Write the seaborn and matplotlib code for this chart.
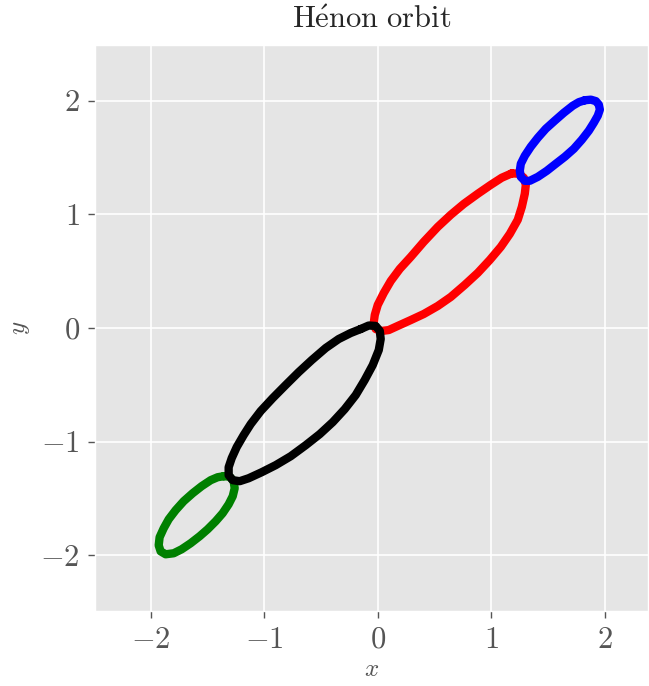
import numpy as np
import pandas as pd
import matplotlib
matplotlib.use("Agg")
import matplotlib.pyplot as plt
import seaborn as sns

green_x = [-1.357, -1.304, -1.269, -1.260, -1.277, -1.313, -1.366, -1.427, -1.498, -1.568, -1.648, -1.727, -1.797,
           -1.868, -1.912, -1.929, -1.921, -1.885, -1.841, -1.780, -1.709, -1.630, -1.551, -1.471, -1.410]
green_y = [-1.304, -1.308, -1.348, -1.410, -1.480, -1.551, -1.630, -1.700, -1.771, -1.832, -1.894, -1.947, -1.982,
           -1.991, -1.965, -1.912, -1.841, -1.762, -1.683, -1.603, -1.524, -1.454, -1.392, -1.339, -1.313]

black_x = [-0.150, -0.079, -0.018, 0.018, 0.026, 0.009, -0.044, -0.115, -0.194, -0.291, -0.396, -0.511, -0.634,
           -0.766, -0.899, -1.022, -1.137, -1.216, -1.277, -1.313, -1.313, -1.286, -1.242, -1.181, -1.119, -1.031,
           -0.925, -0.811, -0.696, -0.581, -0.458, -0.344, -0.238]
black_y = [-0.009, 0.022, 0.018, -0.026, -0.097, -0.194, -0.326, -0.458, -0.590, -0.714, -0.828, -0.934, -1.031,
           -1.128, -1.207, -1.269, -1.322, -1.348, -1.339, -1.295, -1.225, -1.145, -1.048, -0.943, -0.846, -0.731,
           -0.617, -0.502, -0.388, -0.282, -0.176, -0.097, -0.044]

red_x = [1.181, 1.242, 1.286, 1.304, 1.295, 1.269, 1.233, 1.163, 1.084, 0.987, 0.881, 0.766, 0.643, 0.529, 0.405,
         0.291, 0.176, 0.097, 0.035, -0.018, -0.035, -0.026, 0.000, 0.053, 0.115, 0.194, 0.291, 0.405, 0.529,
         0.643, 0.758, 0.881, 0.996, 1.092]
red_y = [1.361, 1.357, 1.322, 1.260, 1.181, 1.066, 0.952, 0.828, 0.714, 0.599, 0.485, 0.379, 0.273, 0.194, 0.123,
         0.070, 0.018, -0.018, -0.026, -0.009, 0.044, 0.115, 0.203, 0.308, 0.414, 0.520, 0.626, 0.758, 0.890,
         0.996, 1.092, 1.181, 1.260, 1.322]

blue_x = [1.824, 1.877, 1.921, 1.947, 1.956, 1.938, 1.903, 1.859, 1.797, 1.727, 1.648, 1.568, 1.489, 1.410,
          1.339, 1.295, 1.260, 1.251, 1.260, 1.295, 1.348, 1.410, 1.480, 1.559, 1.639, 1.718, 1.771]
blue_y = [2.004, 2.009, 1.996, 1.965, 1.921, 1.868, 1.806, 1.736, 1.656, 1.577, 1.507, 1.445, 1.383, 1.330,
          1.295, 1.295, 1.330, 1.383, 1.445, 1.515, 1.595, 1.674, 1.753, 1.824, 1.894, 1.956, 1.987]

ticks = [-2, -1, 0, 1, 2]

plt.style.use("ggplot")
plt.rcParams["font.family"] = "serif"
plt.rcParams["font.serif"] = ["cmr10"]
plt.rcParams["mathtext.fontset"] = "cm"
plt.rcParams["axes.formatter.use_mathtext"] = True

fig = plt.figure(figsize=(6.49, 6.86), dpi=100)
ax = fig.add_axes([95 / 649, 1 - 611 / 686, 553 / 649, 566 / 686])

loops = [(red_x, red_y, "red"), (blue_x, blue_y, "blue"),
         (green_x, green_y, "green"), (black_x, black_y, "black")]
for xs, ys, c in loops:
    df = pd.DataFrame({"x": np.append(xs, xs[0]), "y": np.append(ys, ys[0])})
    sns.lineplot(data=df, x="x", y="y", sort=False, estimator=None, color=c,
                 linewidth=6, solid_joinstyle="round", solid_capstyle="round", ax=ax)

ax.set_xlim(-2.49, 2.38)
ax.set_ylim(-2.49, 2.49)
ax.set_xticks(ticks)
ax.set_yticks(ticks)
ax.grid(True, color="white", linewidth=1.2)
ax.tick_params(labelsize=22, colors="#555555", length=5, width=1, pad=6)
ax.set_xlabel("$x$", fontsize=18, color="#555555", labelpad=4)
ax.set_ylabel("$y$", fontsize=18, color="#555555", labelpad=6)
ax.set_title(r"$\mathrm{H\acute{e}non\ orbit}$", fontsize=22, color="#262626", pad=12)

fig.savefig("out.png", dpi=100)
